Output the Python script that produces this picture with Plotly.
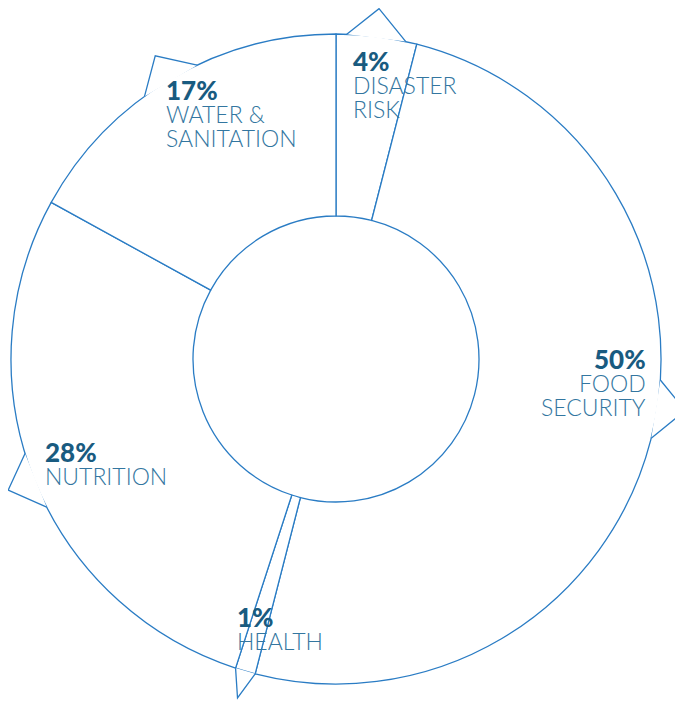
import math
import plotly.graph_objects as go

# ---- data ----
categories = ["DISASTER RISK", "FOOD SECURITY", "HEALTH", "NUTRITION", "WATER & SANITATION"]
values = [4, 50, 1, 28, 17]
pct_labels = ["4%", "50%", "1%", "28%", "17%"]
name_lines = [["DISASTER", "RISK"], ["FOOD", "SECURITY"], ["HEALTH"], ["NUTRITION"], ["WATER &", "SANITATION"]]

# ---- style / layout ----
BODY = 8  # default page body margin
W, H = 683 - BODY, 702 - BODY
ML, MT = 11 - BODY, 34 - BODY
PW, PH = 650, 650
MR, MB = W - ML - PW, H - MT - PH
LINE = "#2a7cc4"
PCT_COLOR = "#195b80"
NAME_COLOR = "#3376a0"
HOLE = 0.44

# label placement (pixel anchor x, cap-top y of percent line, alignment) in page pixels
label_pos = [
    (352, 53, "left"),
    (648, 351, "right"),
    (236, 609, "left"),
    (44, 444, "left"),
    (165, 82, "left"),
]
LINE_STEP = 24

# decorative arrowheads on the outer ring: (base start deg, base end deg, tip deg)
arrows = [(1.9, 12.4, 7.0), (93.7, 104.1, 98.4), (242.9, 253.1, 248.2), (323.9, 334.7, 329.2)]
TIP_R = 353 / 325.0

fig = go.Figure(go.Pie(
    labels=categories, values=values, sort=False, direction="clockwise", rotation=0,
    hole=HOLE, textinfo="none", hoverinfo="label+percent",
    marker=dict(colors=["white"] * len(values), line=dict(color=LINE, width=1.3)),
    showlegend=False, domain=dict(x=[0, 1], y=[0, 1]),
))

# health arrow spans the health slice
cum = 0
bounds = []
for v in values:
    bounds.append((cum / sum(values) * 360, (cum + v) / sum(values) * 360))
    cum += v
hs, he = bounds[2]
arrows.append((hs, he, (hs + he) / 2))


def pt(theta, rr):
    t = math.radians(theta)
    rx = 0.5 * rr * (min(PW, PH) / PW)
    ry = 0.5 * rr * (min(PW, PH) / PH)
    return 0.5 + rx * math.sin(t), 0.5 + ry * math.cos(t)


shapes = []
for a0, a1, tip in arrows:
    p0 = pt(a0, 1.0)
    p1 = pt(tip, TIP_R)
    p2 = pt(a1, 1.0)
    path = f"M {p0[0]:.5f},{p0[1]:.5f} L {p1[0]:.5f},{p1[1]:.5f} L {p2[0]:.5f},{p2[1]:.5f}"
    shapes.append(dict(type="path", xref="paper", yref="paper", path=path,
                       fillcolor="white", line=dict(color=LINE, width=1.3), layer="above"))


def px2paper(x, y):
    x -= BODY
    y -= BODY
    return (x - ML) / PW, 1 - (y - MT) / PH


annotations = []
FS_PCT = 26
FS = 23
for pct, names, (x, y, al) in zip(pct_labels, name_lines, label_pos):
    xa = "left" if al == "left" else "right"
    cx, cy = px2paper(x - 1 if al == "left" else x, y + 8)
    annotations.append(dict(text=pct, x=cx, y=cy, xref="paper", yref="paper", xanchor=xa,
                            yanchor="middle", showarrow=False,
                            font=dict(family="Lato", size=FS_PCT, color=PCT_COLOR, weight=900)))
    for i, nm in enumerate(names):
        cx, cy = px2paper(x - 1 if al == "left" else x, y + 8 + LINE_STEP * (i + 1))
        annotations.append(dict(text=nm, x=cx, y=cy, xref="paper", yref="paper", xanchor=xa,
                                yanchor="middle", showarrow=False,
                                font=dict(family="Lato", size=FS, color=NAME_COLOR, weight=300)))

fig.update_layout(
    width=W, height=H, margin=dict(l=ML, r=MR, t=MT, b=MB),
    paper_bgcolor="white", plot_bgcolor="white",
    shapes=shapes, annotations=annotations,
)
fig.write_html("out.html")
